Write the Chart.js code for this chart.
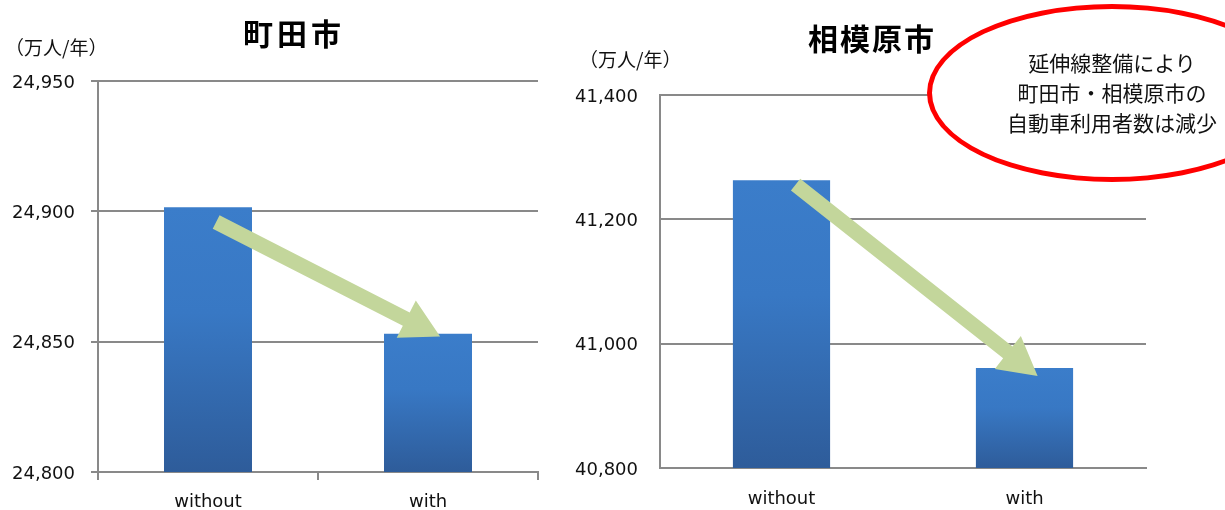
<!DOCTYPE html>
<html>
<head>
<meta charset="utf-8">
<script src="https://cdn.jsdelivr.net/npm/chart.js@4/dist/chart.umd.min.js"></script>
<style>
  html, body { margin: 0; padding: 0; background: #ffffff; }
  #wrap { position: relative; width: 1225px; height: 510px; overflow: hidden; background: #fff; }
  canvas { position: absolute; top: 0; }
  .jp { position: absolute; font-family: "Noto Sans CJK JP", sans-serif; color: #111; white-space: nowrap; }
  .title { font-weight: bold; text-align: center; color: #000; }
  #ellipse { position: absolute; left: 927px; top: 4px; width: 360px; height: 168px;
             border: 5px solid #ff0000; border-radius: 50%; background: #fff; box-sizing: content-box; }
  #note { left: 962px; top: 47px; width: 300px; text-align: center; font-size: 21px; line-height: 30px; }
</style>
</head>
<body>
<div id="wrap">
  <canvas id="c1" width="560" height="510" style="left:0px"></canvas>
  <canvas id="c2" width="665" height="510" style="left:560px"></canvas>
  <div class="jp" style="left:5px; top:35px; font-size:19px; line-height:24px;">（万人/年）</div>
  <div class="jp" style="left:579px; top:47px; font-size:19px; line-height:24px;">（万人/年）</div>
  <div class="jp title" style="left:192px; width:200px; top:13px; font-size:30px; line-height:38px; letter-spacing:4px; padding-left:4px; box-sizing:border-box;">町田市</div>
  <div class="jp title" style="left:771px; width:200px; top:18px; font-size:30px; line-height:38px; letter-spacing:2px; padding-left:2px; box-sizing:border-box;">相模原市</div>
  <div id="ellipse"></div>
  <div id="note" class="jp">延伸線整備により<br>町田市・相模原市の<br>自動車利用者数は減少</div>
</div>
<script>
// ---- data ----
const categories = ['without', 'with'];

const machidaValues = [24901.6, 24853];
const machidaTicks = [24800, 24850, 24900, 24950];
const machidaArrowFrom = [0.037, 24895.9];   // [category index, value]
const machidaArrowTo = [1.055, 24852.0];

const sagamiharaValues = [41263, 40961];
const sagamiharaTicks = [40800, 41000, 41200, 41400];
const sagamiharaArrowFrom = [0.058, 41256];
const sagamiharaArrowTo = [1.054, 40948];

// ---- styles ----
const GRID = '#898989';
const ARROW = '#c3d69b';

function barGradient(ctx) {
  const chart = ctx.chart;
  const area = chart.chartArea;
  if (!area || ctx.type !== 'data') return '#3570b8';
  const y = chart.scales.y;
  const top = y.getPixelForValue(ctx.raw);
  const bottom = area.bottom;
  if (!isFinite(top) || bottom - top < 1) return '#3570b8';
  const g = chart.ctx.createLinearGradient(0, top, 0, bottom);
  g.addColorStop(0, '#3b7dca');
  g.addColorStop(0.4, '#3878c4');
  g.addColorStop(1, '#2e5c9a');
  return g;
}

const arrowPlugin = {
  id: 'trendArrow',
  afterDatasetsDraw(chart, args, opts) {
    const xs = chart.scales.x, ys = chart.scales.y;
    const sx = xs.getPixelForValue(opts.from[0]), sy = ys.getPixelForValue(opts.from[1]);
    const tx = xs.getPixelForValue(opts.to[0]), ty = ys.getPixelForValue(opts.to[1]);
    const dx = tx - sx, dy = ty - sy, len = Math.hypot(dx, dy);
    const ux = dx / len, uy = dy / len, nx = -uy, ny = ux;
    const hl = 38, hh = 21, sh = 7.5;
    const bx = tx - ux * hl, by = ty - uy * hl;
    const c = chart.ctx;
    c.save();
    c.fillStyle = ARROW;
    c.beginPath();
    c.moveTo(sx + nx * sh, sy + ny * sh);
    c.lineTo(bx + nx * sh, by + ny * sh);
    c.lineTo(bx + nx * hh, by + ny * hh);
    c.lineTo(tx, ty);
    c.lineTo(bx - nx * hh, by - ny * hh);
    c.lineTo(bx - nx * sh, by - ny * sh);
    c.lineTo(sx - nx * sh, sy - ny * sh);
    c.closePath();
    c.fill();
    c.restore();
  }
};

function makeChart(id, values, ticks, from, to, cfg) {
  return new Chart(document.getElementById(id), {
    type: 'bar',
    data: {
      labels: categories,
      datasets: [{ data: values, backgroundColor: barGradient, barPercentage: 0.4, categoryPercentage: 1.0, borderWidth: 0 }]
    },
    plugins: [arrowPlugin],
    options: {
      responsive: false,
      animation: false,
      devicePixelRatio: 1,
      layout: { padding: { left: 0, right: cfg.padRight, top: cfg.padTop, bottom: 0 } },
      plugins: {
        legend: { display: false },
        tooltip: { enabled: false },
        title: { display: false },
        trendArrow: { from: from, to: to }
      },
      scales: {
        x: {
          grid: { display: cfg.xTicks, drawOnChartArea: false, drawTicks: cfg.xTicks, tickLength: 8, color: GRID, lineWidth: 2, offset: true },
          border: { display: true, color: GRID, width: 2 },
          ticks: { color: '#111', padding: cfg.xPad, font: { family: 'DejaVu Sans', size: 18 } },
          afterFit(s) { s.height = cfg.xHeight; }
        },
        y: {
          min: ticks[0],
          max: ticks[ticks.length - 1],
          afterBuildTicks(s) { s.ticks = ticks.map(v => ({ value: v })); },
          grid: { color: GRID, lineWidth: 2, drawTicks: cfg.yTicks, tickLength: 7 },
          border: { display: true, color: GRID, width: 2 },
          ticks: {
            color: '#111', padding: cfg.yPad, labelOffset: 2,
            font: { family: 'DejaVu Sans', size: 18 },
            callback: v => v.toLocaleString('en-US')
          },
          afterFit(s) { s.width = cfg.yWidth; }
        }
      }
    }
  });
}

makeChart('c1', machidaValues, machidaTicks, machidaArrowFrom, machidaArrowTo,
  { padRight: 22, padTop: 81, xHeight: 38, yWidth: 98, xTicks: true, yTicks: true, xPad: 12, yPad: 16 });
makeChart('c2', sagamiharaValues, sagamiharaTicks, sagamiharaArrowFrom, sagamiharaArrowTo,
  { padRight: 79, padTop: 95, xHeight: 42, yWidth: 100, xTicks: false, yTicks: false, xPad: 21, yPad: 22 });
</script>
</body>
</html>
